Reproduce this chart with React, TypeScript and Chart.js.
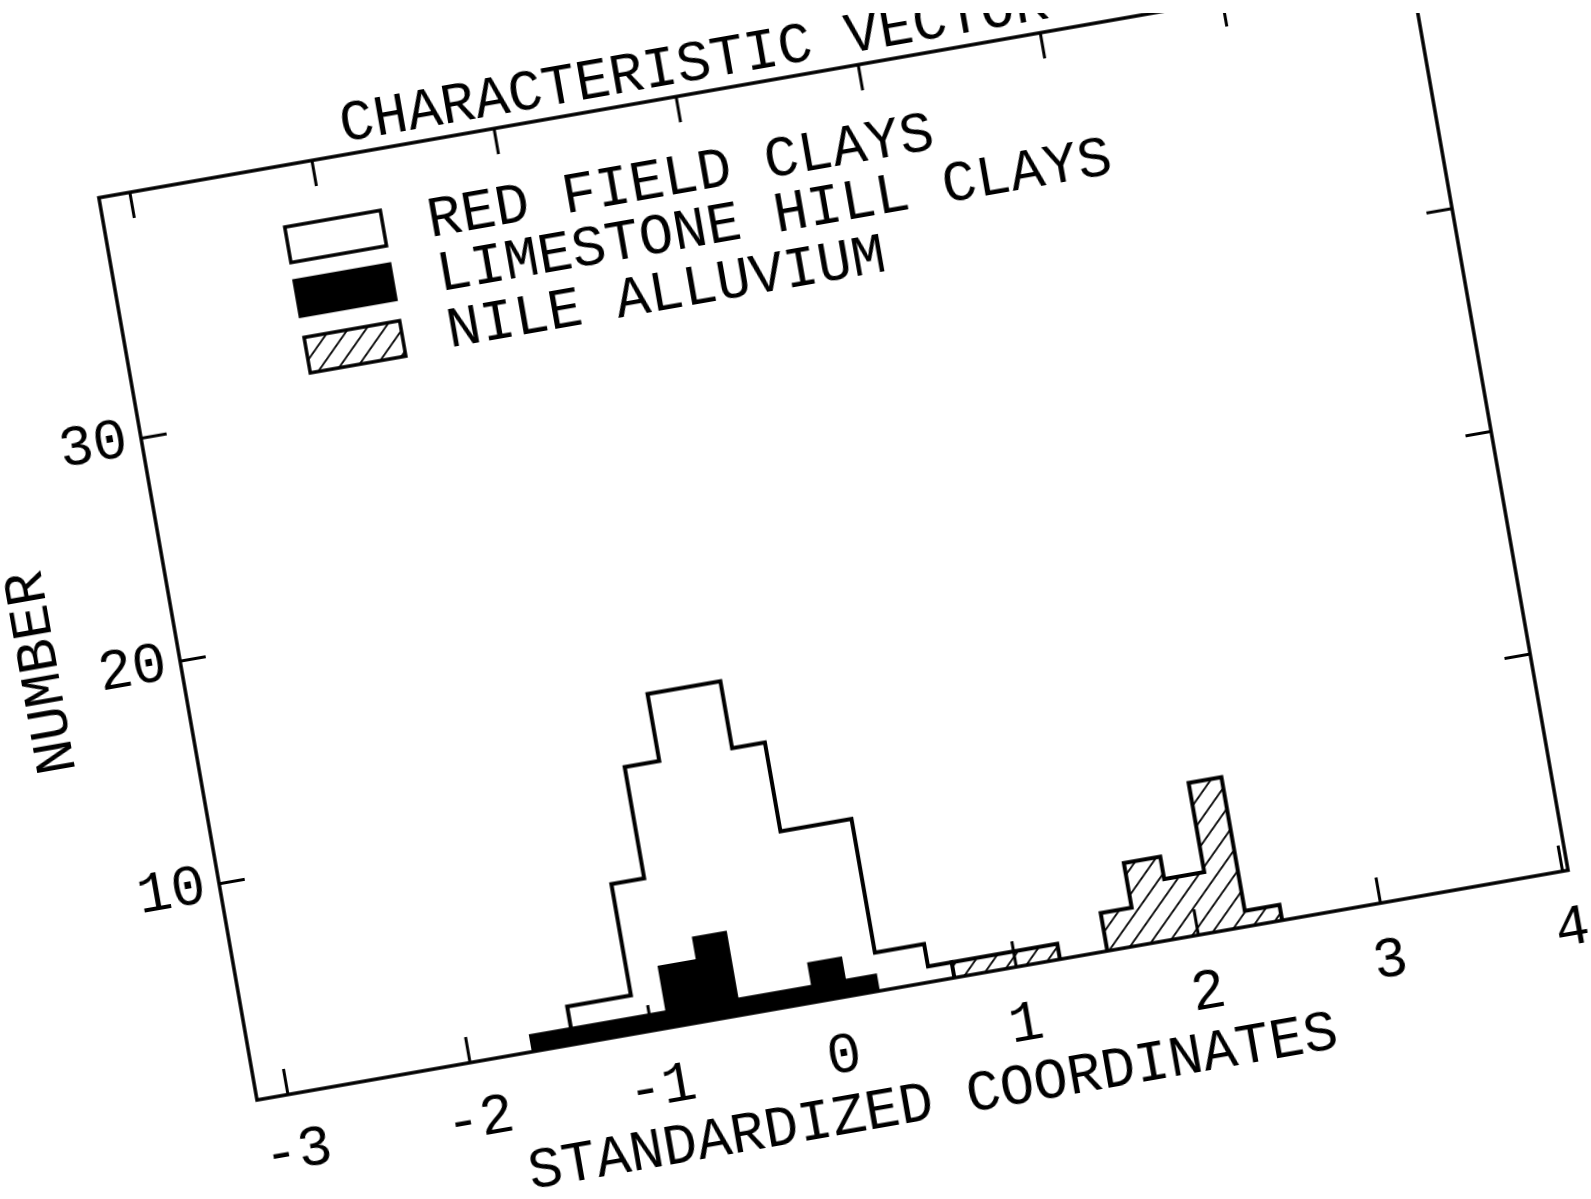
import React, { useEffect, useRef } from 'react';
import { Chart, registerables } from 'chart.js';

Chart.register(...registerables);

// ---------------- data ----------------
const chartTitle = 'CHARACTERISTIC VECTOR';
const xAxisTitle = 'STANDARDIZED COORDINATES';
const yAxisTitle = 'NUMBER';

const xTickValues = [-3, -2, -1, 0, 1, 2, 3, 4];
const yTickValues = [10, 20, 30];

const seriesLabels = ['RED FIELD CLAYS', 'LIMESTONE HILL CLAYS', 'NILE ALLUVIUM'];

// bin edges (standardized coordinate) and counts per bin
const redFieldEdges = [-1.43, -1.08, -0.9, -0.71, -0.31, -0.13, 0.26, 0.53, 0.66];
const redFieldCounts = [2, 7, 12, 15, 12, 8, 2, 1];

const limestoneEdges = [-1.65, -0.9, -0.69, -0.52, -0.1, 0.07, 0.24];
const limestoneCounts = [1, 3, 4, 1, 2, 1];

const nileEdges = [0.66, 1.24, 1.5, 1.67, 1.87, 2.09, 2.27, 2.46];
const nileCounts = [1, 0, 2, 4, 3, 7, 1];

const xMin = -3.17;
const xMax = 4.03;
const yMin = 0.3;
const yMax = 40.8;

// ---------------- layout / style ----------------
const FONT = '"Liberation Mono", "DejaVu Sans Mono", monospace';
const FS = 57;
const PAD = { left: 10, right: 30, top: 10, bottom: 10 };
const Y_AXIS_W = 200;
const X_AXIS_H = 160;
const PLOT_W = 1331;
const PLOT_H = 916;
const W = PAD.left + Y_AXIS_W + PLOT_W + PAD.right;
const H = PAD.top + FS + PLOT_H + X_AXIS_H + PAD.bottom;
const TARGET_X = 256.5; // page position of the bottom-left corner of the frame
const TARGET_Y = 1100;
const ANGLE = -9.94;
const TICK_LEN = 26;

function stepPoints(edges: number[], counts: number[]) {
  const pts: { x: number; y: number }[] = [{ x: edges[0], y: 0 }];
  counts.forEach((c, i) => {
    pts.push({ x: edges[i], y: c });
    pts.push({ x: edges[i + 1], y: c });
  });
  pts.push({ x: edges[edges.length - 1], y: 0 });
  return pts;
}

function makeHatch(): CanvasPattern | string {
  const s = 21;
  const c = document.createElement('canvas');
  c.width = s;
  c.height = s;
  const g = c.getContext('2d');
  if (!g) return '#fff';
  g.fillStyle = '#fff';
  g.fillRect(0, 0, s, s);
  g.strokeStyle = '#000';
  g.lineWidth = 1.8;
  g.beginPath();
  g.moveTo(-2, 2);
  g.lineTo(2, -2);
  g.moveTo(-2, s + 2);
  g.lineTo(s + 2, -2);
  g.moveTo(s - 2, s + 2);
  g.lineTo(s + 2, s - 2);
  g.stroke();
  const p = g.createPattern(c, 'repeat');
  return p || '#fff';
}

const frameLegendPlugin = {
  id: 'frameLegend',
  afterLayout(chart: any) {
    const ca = chart.chartArea;
    if (chart.titleBlock) {
      chart.titleBlock.left = ca.left + 250;
    }
  },
  afterDatasetsDraw(chart: any) {
    const { ctx, chartArea, scales } = chart;
    const { left, right, top, bottom } = chartArea;
    ctx.save();
    ctx.strokeStyle = '#000';
    ctx.lineWidth = 3.5;
    ctx.lineJoin = 'miter';
    ctx.strokeRect(left, top, right - left, bottom - top);
    ctx.lineWidth = 3;
    ctx.beginPath();
    xTickValues.forEach((v) => {
      const px = scales.x.getPixelForValue(v);
      ctx.moveTo(px, bottom);
      ctx.lineTo(px, bottom - TICK_LEN);
      ctx.moveTo(px, top);
      ctx.lineTo(px, top + TICK_LEN);
    });
    yTickValues.forEach((v) => {
      const py = scales.y.getPixelForValue(v);
      ctx.moveTo(left, py);
      ctx.lineTo(left + TICK_LEN, py);
      ctx.moveTo(right, py);
      ctx.lineTo(right - TICK_LEN, py);
    });
    ctx.stroke();
    ctx.restore();
  },
  afterDraw(chart: any) {
    const { ctx, chartArea } = chart;
    const { left, top } = chartArea;
    const boxTops = [61, 115.5, 173];
    ctx.save();
    ctx.font = `${FS}px ${FONT}`;
    ctx.textBaseline = 'alphabetic';
    ctx.textAlign = 'left';
    chart.data.datasets.forEach((ds: any, i: number) => {
      const bx = left + 178;
      const by = top + boxTops[i];
      ctx.fillStyle = ds.backgroundColor;
      ctx.fillRect(bx, by, 97, 36);
      ctx.strokeStyle = '#000';
      ctx.lineWidth = 3.5;
      ctx.strokeRect(bx, by, 97, 36);
      ctx.fillStyle = '#000';
      ctx.fillText(ds.label, left + 320, by + 35);
    });
    ctx.restore();
  },
};

export default function App() {
  const canvasRef = useRef<HTMLCanvasElement | null>(null);
  const wrapRef = useRef<HTMLDivElement | null>(null);

  useEffect(() => {
    const canvas = canvasRef.current;
    const wrap = wrapRef.current;
    if (!canvas || !wrap) return;
    const hatch = makeHatch();
    const tickFont = { family: FONT, size: FS, lineHeight: 1, weight: 'normal' as const };

    const chart = new Chart(canvas, {
      type: 'line',
      data: {
        datasets: [
          {
            label: seriesLabels[0],
            data: stepPoints(redFieldEdges, redFieldCounts),
            borderColor: '#000',
            backgroundColor: '#fff',
            borderWidth: 4,
            fill: 'origin',
            pointRadius: 0,
            tension: 0,
            order: 3,
          },
          {
            label: seriesLabels[1],
            data: stepPoints(limestoneEdges, limestoneCounts),
            borderColor: '#000',
            backgroundColor: '#000',
            borderWidth: 4,
            fill: 'origin',
            pointRadius: 0,
            tension: 0,
            order: 2,
          },
          {
            label: seriesLabels[2],
            data: stepPoints(nileEdges, nileCounts),
            borderColor: '#000',
            backgroundColor: hatch as any,
            borderWidth: 4,
            fill: 'origin',
            pointRadius: 0,
            tension: 0,
            order: 1,
          },
        ],
      },
      options: {
        animation: false,
        responsive: false,
        devicePixelRatio: 1,
        layout: { padding: PAD },
        events: [],
        plugins: {
          legend: { display: false },
          tooltip: { enabled: false },
          title: {
            display: true,
            text: chartTitle,
            align: 'start',
            color: '#000',
            padding: 0,
            font: { family: FONT, size: FS, lineHeight: 1, weight: 'normal' },
          },
        },
        scales: {
          x: {
            type: 'linear',
            min: xMin,
            max: xMax,
            grid: { display: false, drawTicks: false },
            border: { display: false },
            afterBuildTicks: (s: any) => {
              s.ticks = xTickValues.map((v) => ({ value: v }));
            },
            afterFit: (s: any) => {
              s.height = X_AXIS_H;
              s.paddingLeft = 0;
              s.paddingRight = 0;
            },
            ticks: {
              autoSkip: false,
              maxRotation: 0,
              color: '#000',
              padding: 30,
              font: tickFont,
              callback: (v: any) => String(v),
            },
            title: {
              display: true,
              text: xAxisTitle,
              color: '#000',
              padding: { top: 0, bottom: 12 },
              font: tickFont,
            },
          },
          y: {
            type: 'linear',
            min: yMin,
            max: yMax,
            grid: { display: false, drawTicks: false },
            border: { display: false },
            afterBuildTicks: (s: any) => {
              s.ticks = yTickValues.map((v) => ({ value: v }));
            },
            afterFit: (s: any) => {
              s.width = Y_AXIS_W;
              s.paddingTop = 0;
              s.paddingBottom = 0;
            },
            ticks: {
              color: '#000',
              padding: 14,
              font: tickFont,
              callback: (v: any) => String(v),
            },
            title: {
              display: true,
              text: yAxisTitle,
              color: '#000',
              padding: { top: 34, bottom: 0 },
              font: tickFont,
            },
          },
        },
      },
      plugins: [frameLegendPlugin],
    });

    const ca = chart.chartArea;
    wrap.style.left = `${TARGET_X - ca.left}px`;
    wrap.style.top = `${TARGET_Y - ca.bottom}px`;
    wrap.style.transformOrigin = `${ca.left}px ${ca.bottom}px`;
    wrap.style.transform = `rotate(${ANGLE}deg)`;

    return () => {
      chart.destroy();
    };
  }, []);

  return (
    <div
      style={{
        position: 'fixed',
        left: 0,
        top: 0,
        width: '100vw',
        height: '100vh',
        overflow: 'hidden',
        background: '#fff',
      }}
    >
      <div ref={wrapRef} style={{ position: 'absolute', width: W, height: H }}>
        <canvas ref={canvasRef} width={W} height={H} style={{ display: 'block' }} />
      </div>
      <div
        style={{
          position: 'absolute',
          left: 0,
          top: 0,
          width: '100%',
          height: 13,
          background: '#fff',
        }}
      />
    </div>
  );
}
